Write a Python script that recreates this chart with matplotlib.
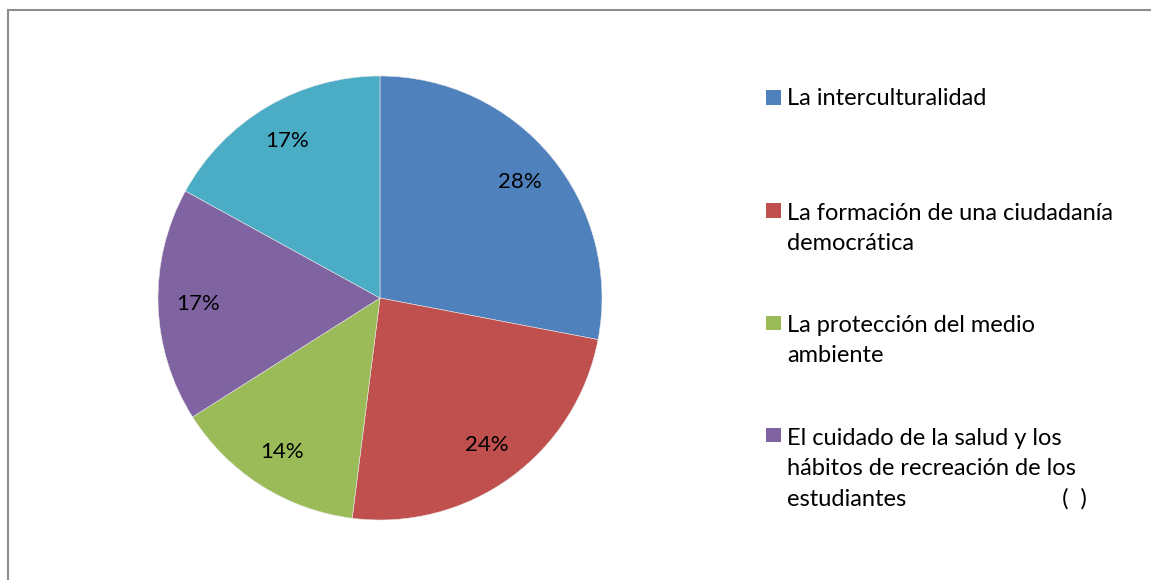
import matplotlib
matplotlib.use("Agg")
import matplotlib.pyplot as plt
import matplotlib.patches as patches
from matplotlib.lines import Line2D

plt.rcParams['font.family'] = ['Lato', 'DejaVu Sans']

# Datos
categorias = [
    "La interculturalidad",
    "La formación de una ciudadanía\ndemocrática",
    "La protección del medio\nambiente",
    "El cuidado de la salud y los\nhábitos de recreación de los\nestudiantes                          (  )",
    "Otro",
]
valores = [28, 24, 14, 17, 17]
colores = ['#4F81BD', '#C0504D', '#9BBB59', '#8064A2', '#4BACC6']

W, H = 1151, 580
fig = plt.figure(figsize=(W / 100, H / 100), dpi=100)

# Marco gris (solo arriba e izquierda visibles)
fig.add_artist(Line2D([8 / W, 8 / W], [0, 1 - 10 / H], color='#8c8c8c', lw=1.5,
                      transform=fig.transFigure))
fig.add_artist(Line2D([8 / W, 1], [1 - 10 / H, 1 - 10 / H], color='#8c8c8c', lw=1.5,
                      transform=fig.transFigure))

# Pastel
cx, cy, r = 380, 298, 222
ax = fig.add_axes([(cx - r) / W, (H - cy - r) / H, 2 * r / W, 2 * r / H])
ax.pie(valores, colors=colores, startangle=90, counterclock=False,
       autopct='%.0f%%', pctdistance=0.82, radius=1,
       wedgeprops=dict(edgecolor='#e6e6e6', linewidth=0.4),
       textprops=dict(fontsize=16, color='black'))
ax.set_xlim(-1, 1)
ax.set_ylim(-1, 1)
ax.set_aspect('equal')
ax.axis('off')

# Leyenda (las cuatro primeras entradas, la quinta queda fuera)
base_y = [105, 218, 330, 442]
paso = 32
for i, y in enumerate(base_y):
    fig.add_artist(patches.Rectangle((766 / W, 1 - (y - 0.5) / H), 15 / W, 14 / H,
                                     facecolor=colores[i], edgecolor='none',
                                     transform=fig.transFigure))
    n = categorias[i].count('\n')
    # va='baseline' alinea la última línea
    fig.text(787 / W, 1 - (y + n * paso) / H, categorias[i], fontsize=17,
             va='baseline', ha='left', linespacing=1.535, color='black')

fig.savefig('out.png', dpi=100)
